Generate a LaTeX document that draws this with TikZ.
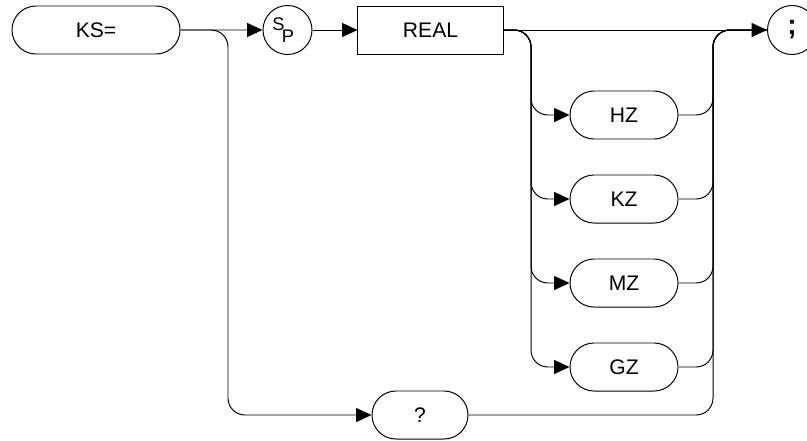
\documentclass[tikz,border=0pt]{standalone}
\usepackage{fontspec}
\setmainfont{Liberation Sans}
\usetikzlibrary{shapes.misc, arrows.meta}

\begin{document}
\begin{tikzpicture}[
    x=0.025cm, y=-0.025cm,
    font=\fontsize{15}{17}\selectfont,
    % Elementos de la sintaxis
    keyword/.style={draw, rounded rectangle, line width=0.7pt, minimum width=2.7cm, minimum height=1.2cm, inner sep=0pt},
    param/.style={draw, rectangle, line width=0.7pt, minimum width=3.625cm, minimum height=1.2cm},
    symbol/.style={draw, circle, line width=0.7pt, minimum size=1.225cm, inner sep=0pt},
    % Conexiones entre elementos
    link/.style={line width=0.7pt, rounded corners=12pt},
    flow/.style={link, -{Triangle[length=11pt, width=10pt]}}
]
\useasboundingbox (0,0) rectangle (807,440);

% --- Linea principal ---
\node[keyword, minimum width=4.2cm] (ks) at (96,30) {KS=};
\node[symbol, font=\fontsize{13}{13}\selectfont] (sp) at (287.5,30)
    {\raisebox{3.5pt}{S}\kern-2pt\raisebox{-4.5pt}{P}\kern6pt};
\node[param] (real) at (430.5,30) {REAL};
\node[symbol, font=\fontsize{20}{20}\selectfont\bfseries] (semi) at (792,30) {;};

\draw[flow] (ks) -- (sp);
\draw[flow] (sp) -- (real);
\draw[flow] (real) -- (semi);

% --- Unidades ---
\node[keyword] (hz) at (624,115) {HZ};
\node[keyword] (kz) at (624,199) {KZ};
\node[keyword] (mz) at (624,283) {MZ};
\node[keyword] (gz) at (624,367) {GZ};

% --- Consulta ---
\node[keyword, minimum width=2.4cm] (q) at (420,415) {?};

% --- Ramas ---
\coordinate (ksplit) at (228,30);
\coordinate (usplit) at (531,30);
\coordinate (ujoin) at (713,30);

\draw[flow] (ks.east) -- (ksplit) -- (ksplit |- q) -- (q);
\foreach \u in {hz,kz,mz,gz}
    \draw[flow] (real.east) -- (usplit) -- (usplit |- \u) -- (\u);
\foreach \u in {hz,kz,mz,gz,q}
    \draw[link] (\u) -- (\u -| ujoin) -- (ujoin) -- (semi);

\end{tikzpicture}
\end{document}
